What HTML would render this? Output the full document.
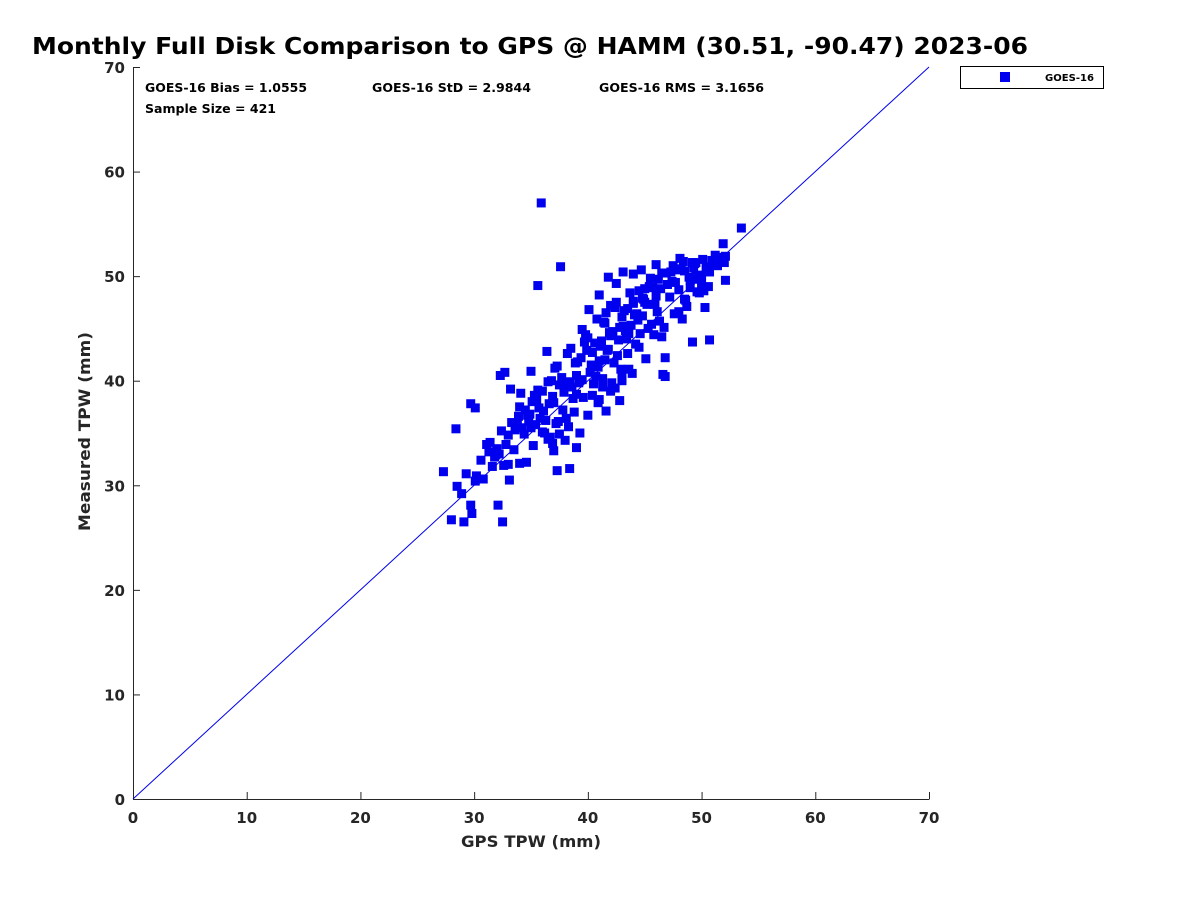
<!DOCTYPE html>
<html><head><meta charset="utf-8"><style>
body{margin:0;background:#fff}
svg text{font-family:"DejaVu Sans","Liberation Sans",sans-serif;font-weight:bold;fill:#262626}
</style></head><body>
<svg id="chart" width="1200" height="900" xmlns="http://www.w3.org/2000/svg">
<rect width="1200" height="900" fill="#fff"/>
<text x="32" y="54" font-size="23" textLength="996" lengthAdjust="spacingAndGlyphs" style="fill:#000">Monthly Full Disk Comparison to GPS @ HAMM (30.51, -90.47) 2023-06</text>
<g id="axes"></g>
<g id="marks"></g>
<text x="145" y="92" font-size="12" textLength="162" lengthAdjust="spacingAndGlyphs" style="fill:#000">GOES-16 Bias = 1.0555</text>
<text x="372" y="92" font-size="12" textLength="159" lengthAdjust="spacingAndGlyphs" style="fill:#000">GOES-16 StD = 2.9844</text>
<text x="599" y="92" font-size="12" textLength="165" lengthAdjust="spacingAndGlyphs" style="fill:#000">GOES-16 RMS = 3.1656</text>
<text x="145" y="113" font-size="12" textLength="131" lengthAdjust="spacingAndGlyphs" style="fill:#000">Sample Size = 421</text>
<g>
<rect x="960.5" y="66.5" width="143" height="22" fill="#fff" stroke="#000" stroke-width="1"/>
<rect x="1000" y="72" width="10" height="10" fill="#0000ee"/>
<text x="1045" y="81" font-size="10" textLength="49" lengthAdjust="spacingAndGlyphs" style="fill:#000">GOES-16</text>
</g>
<text x="461" y="847" font-size="16" textLength="140" lengthAdjust="spacingAndGlyphs">GPS TPW (mm)</text>
<text transform="translate(90,531) rotate(-90)" font-size="16" textLength="199" lengthAdjust="spacingAndGlyphs">Measured TPW (mm)</text>
</svg>
<script>
const xTicks=[0,10,20,30,40,50,60,70];
const yTicks=[0,10,20,30,40,50,60,70];
const gpsX=[35.9,35.6,37.6,53.5,27.3,28.4,28.0,29.1,32.5,32.1,29.7,30.1,29.3,29.8,29.7,28.9,28.5,30.1,30.6,31.1,31.9,32.3,32.7,33.1,37.3,38.4,39.3,41.6,46.6,46.8,46.8,49.2,50.7,52.1,51.9,51.7,41.8,43.1,44.7,46.0,
30.2,31.4,31.8,32.0,32.4,32.8,33.0,33.3,33.6,33.9,34.2,34.5,34.8,35.1,35.4,35.7,36.0,36.3,36.6,36.9,37.2,37.5,37.8,38.1,38.4,38.7,39.0,32.6,33.5,34.0,34.4,34.9,35.3,35.8,36.2,36.7,37.0,37.4,37.9,38.3,38.8,39.2,39.6,
33.2,34.1,35.0,35.5,36.1,36.5,37.1,37.7,38.2,38.6,39.1,39.5,39.9,40.3,40.7,41.1,41.5,41.9,42.3,42.7,43.1,43.5,36.4,37.3,38.0,38.5,39.0,39.4,39.8,40.2,40.6,41.0,41.4,41.8,42.2,42.6,43.0,43.4,43.8,44.2,
39.5,40.0,40.4,40.8,41.2,41.6,42.0,42.4,42.8,43.2,43.6,44.0,44.4,44.8,45.2,45.6,40.1,40.5,40.9,41.3,41.7,42.1,42.5,42.9,43.3,43.7,44.1,44.5,44.9,45.3,45.7,46.1,46.5,
41.0,41.5,42.0,42.5,43.0,43.5,44.0,44.5,45.0,45.5,46.0,46.5,47.0,47.5,48.0,48.5,49.0,49.5,50.0,50.5,51.0,51.5,52.0,
44.3,44.8,45.4,45.9,46.4,46.9,47.4,47.9,48.4,48.9,49.4,49.9,50.4,50.9,51.4,47.2,47.7,48.2,48.7,49.2,49.7,50.2,50.7,48.0,48.5,49.0,49.5,50.0,48.3,49.8,50.3,
37.0,37.5,36.8,38.9,40.4,41.3,42.8,43.9,45.1,46.3,39.7,40.9,42.4,43.6,44.6,34.6,35.2,36.0,36.9,33.8,34.7,35.6,31.6,32.2,33.0,30.8,31.3,
44.0,45.0,46.2,47.3,48.1,49.3,50.1,51.2,45.8,46.7,47.6,48.6,49.6,50.6,52.1,40.0,41.0,42.0,43.0,38.0,39.0,36.5,35.0,34.0];
const measY=[57.0,49.1,50.9,54.6,31.3,35.4,26.7,26.5,26.5,28.1,37.8,37.4,31.1,27.3,28.1,29.2,29.9,30.4,32.4,33.9,32.9,40.5,40.8,30.5,31.4,31.6,35.0,37.1,40.6,42.2,40.4,43.7,43.9,49.6,53.1,51.8,49.9,50.4,50.6,51.1,
30.9,34.1,32.7,33.5,35.2,33.9,34.8,36.0,35.3,36.6,35.5,37.2,36.1,38.0,35.8,37.4,39.0,36.2,37.8,38.5,35.9,39.6,37.2,36.4,39.9,38.3,40.5,31.9,33.4,37.5,34.9,36.8,38.6,36.4,35.0,34.6,37.9,36.1,38.9,35.6,37.0,39.8,38.4,
39.2,38.8,40.9,38.2,37.1,39.9,41.2,40.3,42.6,39.4,41.8,40.1,42.9,41.5,40.4,43.3,42.0,44.6,41.7,43.9,45.2,42.6,42.8,41.4,39.6,43.1,38.7,42.2,44.4,40.8,43.6,41.9,45.6,43.0,44.7,42.4,46.1,44.0,45.3,43.5,
44.9,44.1,42.7,45.9,43.8,46.5,44.3,47.0,45.1,46.7,44.5,47.6,45.8,46.2,47.3,45.4,46.8,39.7,41.3,40.2,42.9,39.8,47.5,41.1,44.8,48.4,46.3,43.2,47.8,45.0,48.9,46.6,44.2,
48.2,45.5,47.2,49.3,40.3,46.9,50.2,48.6,47.5,49.8,48.1,50.3,49.2,51.0,48.7,50.5,49.6,51.3,50.1,50.8,51.1,51.6,51.3,
46.4,47.9,49.0,47.3,48.8,50.3,49.5,50.6,51.4,49.9,51.2,50.0,50.9,51.5,51.0,48.0,49.4,50.7,47.1,51.3,49.7,48.6,50.4,46.6,47.8,48.9,50.0,49.3,45.9,48.4,47.0,
33.3,34.9,40.0,41.7,38.6,39.4,38.1,40.7,42.1,45.7,43.7,37.9,39.3,41.1,44.5,32.2,33.8,35.1,34.0,35.9,36.7,39.1,31.8,33.0,32.0,30.6,33.2,
47.4,48.8,49.7,50.4,51.7,50.8,51.6,52.0,44.4,45.1,46.4,47.7,48.5,49.0,51.9,36.7,38.2,39.0,40.0,34.3,33.6,34.4,35.5,32.1];
const SVGNS='http://www.w3.org/2000/svg';
const L=133,R=929,T=67,B=799;
const sx=v=>L+(v-0)/(70-0)*(R-L);
const sy=v=>B-(v-0)/(70-0)*(B-T);
const axes=document.getElementById('axes');
const marks=document.getElementById('marks');
function mk(tag,attrs,parent){const e=document.createElementNS(SVGNS,tag);for(const k in attrs)e.setAttribute(k,attrs[k]);parent.appendChild(e);return e;}
const xa=mk('line',{x1:L,y1:B+0.5,x2:R+0.5,y2:B+0.5,stroke:'#262626','stroke-width':1},axes);


const ya=mk('line',{x1:L+0.5,y1:T,x2:L+0.5,y2:B+0.5,stroke:'#262626','stroke-width':1},axes);


xTicks.forEach(t=>{
  const tk=mk('line',{x1:sx(t)+0.5,y1:B,x2:sx(t)+0.5,y2:B-7,stroke:'#262626'},axes);
  
  
  const tx=mk('text',{x:sx(t),y:B+24,'font-size':15,'text-anchor':'middle'},axes);tx.textContent=t;
  
  
});
yTicks.forEach(t=>{
  const tk=mk('line',{x1:L,y1:sy(t)+0.5,x2:L+7,y2:sy(t)+0.5,stroke:'#262626'},axes);
  
  
  const tx=mk('text',{x:L-8,y:sy(t)+6,'font-size':15,'text-anchor':'end'},axes);tx.textContent=t;
  
  
});
const ref=mk('line',{x1:sx(0),y1:sy(0),x2:sx(70),y2:sy(70),stroke:'#0000ee','stroke-width':1},marks);


const n=Math.min(gpsX.length,measY.length);
for(let i=0;i<n;i++){
  const p=mk('rect',{x:sx(gpsX[i])-4.5,y:sy(measY[i])-4.5,width:9,height:9,fill:'#0000ee'},marks);
  
  
}
</script>
</body></html>
